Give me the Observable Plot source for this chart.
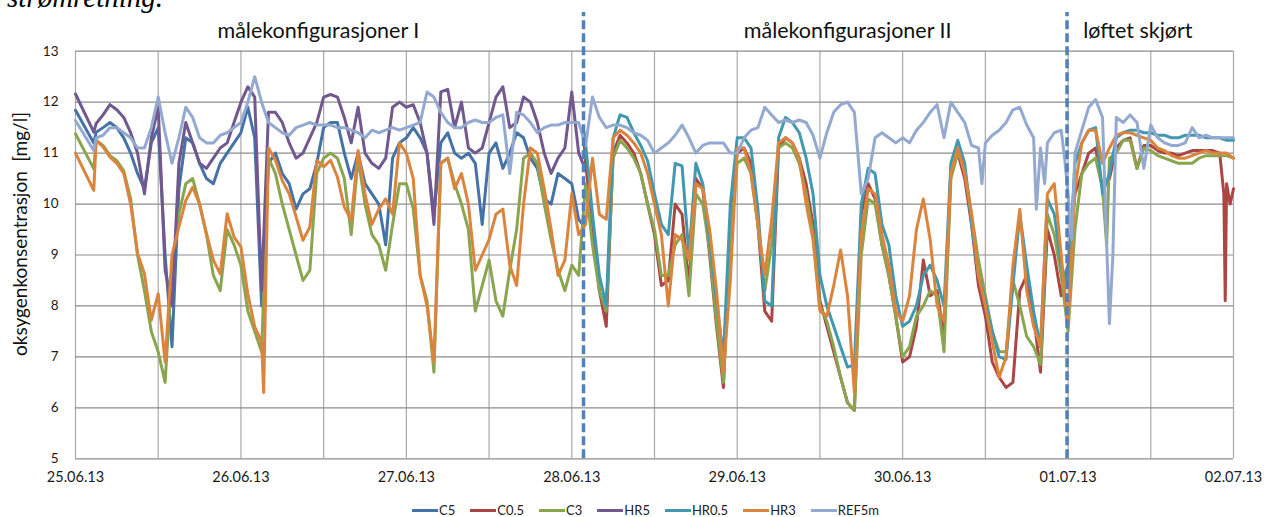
<!DOCTYPE html>
<html><head><meta charset="utf-8">
<script src="https://cdn.jsdelivr.net/npm/d3@7"></script>
<script src="https://cdn.jsdelivr.net/npm/@observablehq/plot@0.6"></script>
<style>
html,body{margin:0;padding:0;background:#fff;}
#wrap{position:relative;width:1267px;height:517px;overflow:hidden;font-family:Lato,"Open Sans",sans-serif;}
#wrap svg{position:absolute;left:0;top:0;}
#doc{position:absolute;left:7px;top:-17px;font:italic 29px/29px "Liberation Serif",serif;color:#000;white-space:nowrap;}
#legend{position:absolute;left:412px;top:502px;height:16px;display:flex;align-items:center;font-size:13px;color:#222;}
.item{display:flex;align-items:center;margin-right:15px;}
.sw{width:26px;height:3px;margin-right:1px;}
</style></head><body><div id="wrap"><div id="doc">strømretning.</div><div id="legend"></div></div>
<script>
// series names and colours (legend order = drawing order)
const names = ["C5", "C0.5", "C3", "HR5", "HR0.5", "HR3", "REF5m"];
const colors = ["#4572A7", "#AA4643", "#89A54E", "#71588F", "#4198AF", "#DB843D", "#93A9CF"];

// hourly readings (mg/l); index i = hours after 25.06.13 00:00 + start hour of the series
const C5 = [11.84,null,null,11.41,11.5,11.6,11.5,11.3,11.0,10.6,10.3,11.2,
 11.5,9.0,7.2,10.3,11.3,11.2,10.8,10.5,10.4,10.8,11.0,11.2,
 11.4,11.9,11.3,8.0,10.8,11.0,10.6,10.4,9.9,10.2,10.3,10.8,
 11.5,11.6,11.6,11.0,10.5,11.0,10.4,10.2,10.0,9.2,10.9,11.2,
 11.3,11.5,11.3,11.0,9.8,11.2,11.4,11.0,10.9,11.0,10.8,9.6,
 11.0,11.2,10.7,11.0,11.4,11.3,10.9,10.7,10.1,10.0,10.6,10.5,
 10.4,9.7];
const HR5 = [12.16,null,null,11.58,11.75,11.95,11.85,11.7,11.4,11.0,10.2,11.3,
 11.9,8.7,8.0,10.8,11.6,11.2,10.8,10.7,10.9,11.1,11.2,11.6,
 12.0,12.3,12.1,8.3,11.8,11.8,11.6,11.2,10.9,11.0,11.3,11.6,
 12.1,12.15,12.1,11.7,11.2,11.9,11.0,10.8,10.7,10.9,11.9,12.0,
 11.9,11.95,11.6,11.0,9.6,12.2,12.25,11.5,12.0,11.1,11.0,11.1,
 11.6,12.1,12.3,11.5,11.6,12.1,12.0,11.6,11.0,10.6,10.9,11.1,
 12.2,11.0];
const C3 = [11.38,null,null,11.25,11.15,10.95,10.85,10.65,10.1,9.0,8.3,7.5,
 7.1,6.5,8.7,9.8,10.4,10.5,10.0,9.4,8.6,8.3,9.5,9.2,
 8.8,7.9,7.5,7.1,10.9,10.6,10.0,9.5,9.0,8.5,8.7,10.6,
 10.9,11.0,10.9,10.5,9.4,10.9,10.0,9.4,9.2,8.7,9.6,10.4,
 10.4,9.9,8.6,8.1,6.7,10.8,10.9,10.4,10.0,9.5,7.9,8.4,
 8.9,8.1,7.8,8.7,9.5,10.9,11.0,10.8,10.0,9.3,8.7,8.3,
 8.8,8.6,10.4,9.2,8.3,7.9,10.9,11.25,11.1,10.9,10.6,10.0,
 9.5,8.6,8.6,9.2,9.4,8.2,10.2,10.0,9.1,7.7,6.5,9.3,
 10.8,10.9,10.6,9.6,8.3,9.2,11.1,11.2,11.1,10.8,10.2,9.4,
 8.0,7.7,7.2,6.6,6.1,5.95,9.0,10.1,10.0,9.2,8.6,7.8,
 7.0,7.2,7.8,8.0,8.3,8.2,7.1,10.5,11.0,10.7,9.8,8.9,
 8.2,7.5,7.1,7.1,8.5,8.0,7.4,7.2,6.85,9.8,9.4,8.6,
 7.5,9.5,10.6,10.8,10.9,10.3,10.9,11.0,11.25,11.25,10.7,11.1,
 11.05,10.95,10.9,10.85,10.8,10.8,10.8,10.9,10.95,10.95,10.95,10.95,
 10.9];
const HR3 = [11.0,null,null,11.25,11.12,10.92,10.8,10.6,10.0,9.03,8.63,7.72,
 8.24,6.9,9.0,9.55,10.07,10.33,10.0,9.42,8.9,8.63,9.81,9.35,
 9.16,8.24,7.59,7.3,11.1,10.86,10.46,10.2,9.75,9.29,9.55,10.86,
 10.73,10.86,10.53,9.94,9.68,11.05,10.2,9.6,9.9,10.1,9.8,11.2,
 11.0,10.5,8.6,8.0,6.9,10.8,10.9,10.3,10.6,10.0,8.7,9.0,
 9.3,9.8,9.9,8.8,8.4,10.0,11.1,11.0,10.3,9.5,8.6,8.9,
 10.2,9.4,9.6,10.9,9.8,9.7,11.3,11.45,11.35,11.2,11.0,10.6,
 10.0,9.4,8.0,9.4,9.3,8.9,10.4,10.3,9.5,8.3,6.7,8.5,
 11.1,11.1,10.6,9.6,8.6,9.7,11.2,11.3,11.2,10.9,10.0,9.3,
 7.9,7.8,8.4,9.1,8.2,6.3,9.4,10.3,10.2,9.4,8.8,7.9,
 7.7,8.2,9.5,10.1,9.3,8.0,7.7,10.6,11.1,10.6,9.8,8.6,
 8.0,7.3,6.6,7.0,8.8,9.9,8.3,7.6,7.2,10.2,10.4,9.0,
 7.6,10.3,11.2,11.45,11.45,10.8,11.1,11.35,11.4,11.4,11.35,11.3,
 11.25,11.1,11.05,10.95,10.9,10.9,10.95,11.0,11.05,11.0,11.0,11.0,
 10.9];
const C05 = [10.8,9.6,8.3,7.6,11.0,11.35,11.2,11.0,10.6,10.0,9.4,8.4,
 8.5,10.0,9.8,8.4,10.5,10.3,9.0,7.6,6.4,9.7,11.0,11.1,
 10.8,9.6,7.9,7.7,11.1,11.3,11.2,10.9,10.4,9.6,8.1,7.6,
 7.1,6.6,6.1,5.95,9.8,10.4,10.1,9.2,8.6,7.8,6.9,7.0,
 7.6,8.9,8.2,8.3,7.4,10.7,11.0,10.5,9.6,8.4,7.8,6.9,
 6.6,6.4,6.5,8.3,8.6,7.8,6.7,9.5,9.0,8.2,8.8,10.2,
 10.6,11.0,11.1,10.3,10.5,11.1,11.25,11.3,10.7,11.15,11.15,11.05,
 11.0,11.0,10.95,11.0,11.05,11.05,11.05,11.05,11.0,10.4,10.3];
const HR05 = [11.2,9.8,8.6,8.0,11.3,11.75,11.7,11.4,11.15,10.85,10.2,9.6,
 9.4,10.8,10.75,9.0,10.8,10.4,9.3,8.1,7.0,10.0,11.3,11.3,
 11.1,9.9,8.1,8.0,11.3,11.7,11.6,11.4,10.9,10.2,8.6,8.0,
 7.6,7.2,6.8,6.85,10.0,10.7,10.6,9.6,9.2,8.2,7.6,7.7,
 8.0,8.6,8.8,8.5,8.0,10.8,11.25,10.8,9.6,8.6,8.1,7.5,
 7.0,6.95,8.4,9.8,8.8,7.9,7.2,10.1,9.8,8.8,8.4,10.8,
 11.2,11.45,11.5,10.2,10.6,11.3,11.4,11.45,11.45,11.4,11.4,11.35,
 11.35,11.3,11.3,11.35,11.35,11.35,11.3,11.3,11.3,11.25,11.25];
const REF5m = [11.64,null,null,11.3,11.35,11.5,11.5,11.4,11.3,11.1,11.1,11.5,
 12.1,11.4,10.8,11.3,11.9,11.7,11.3,11.2,11.2,11.35,11.4,11.5,
 11.6,12.0,12.5,12.0,11.6,11.5,11.4,11.35,11.5,11.55,11.6,11.55,
 11.55,11.55,11.5,11.5,11.45,11.4,11.3,11.45,11.4,11.45,11.5,11.45,
 11.5,11.55,11.6,12.2,12.1,11.8,11.6,11.5,11.5,11.6,11.65,11.6,
 11.6,11.7,11.75,10.6,11.8,11.75,11.6,11.4,11.5,11.55,11.55,11.6,
 11.6,11.6,11.15,12.1,11.7,11.5,11.55,11.55,11.5,11.4,11.35,11.25,
 11.0,11.1,11.2,11.35,11.55,11.3,11.0,11.15,11.2,11.2,11.2,11.0,
 11.0,11.3,11.45,11.5,11.9,11.75,11.6,11.65,11.6,11.65,11.6,11.35,
 10.9,11.4,11.8,11.95,12.0,11.8,10.2,10.5,11.3,11.4,11.3,11.2,
 11.3,11.2,11.45,11.6,11.8,11.95,11.3,12.0,11.8,11.6,11.15,11.1,
 11.2,11.35,11.45,11.6,11.85,11.9,11.55,11.3,11.1,11.2,11.4,11.45,
 10.2,11.0,11.45,11.9,12.05,11.7,7.65,11.7,11.6,11.75,11.6,10.7,
 11.55,11.3,11.2,11.15,11.15,11.2,11.5,11.3,11.35,11.3,11.3,11.3,
 11.3];

// readings between the full hours (spikes, section changes)
const extraName = ["C5","HR5","C3","HR3","REF5m","HR3","C5","HR5","C0.5","HR0.5","REF5m","REF5m","REF5m","REF5m","REF5m","REF5m","C3","REF5m","C0.5","C0.5","C0.5"];
const extraHour = [2.65,2.65,2.65,2.65,2.65,27.3,73.6,73.6,73.8,73.8,131.5,139.4,140.6,143.5,144.5,149.5,149.6,150.5,166.6,166.8,167.5];
const extraValue = [11.2,11.41,10.69,10.27,11.05,6.3,9.6,10.8,11.2,11.4,10.4,9.9,10.4,10.9,9.3,9.6,9.2,9.0,10.2,8.1,10.0];

const seriesValues = [C5, C05, C3, HR5, HR05, HR3, REF5m];
const seriesStart = [0, 74, 0, 0, 74, 0, 0];

// section changes (dashed lines) and section titles
const sectionBreaks = [73.7, 143.85];
const sectionTitles = ["målekonfigurasjoner I", "målekonfigurasjoner II", "løftet skjørt"];
const sectionTitleAt = [20.6, 96.95, 146.2];

const yTicks = [5, 6, 7, 8, 9, 10, 11, 12, 13];
const yTitle = "oksygenkonsentrasjon\u2002[mg/l]";

const base = Date.UTC(2013, 5, 25);
const toDate = h => new Date(base + h * 3600e3);

const table = [];
names.forEach((name, k) => {
  const rows = [];
  seriesValues[k].forEach((v, i) => { if (v != null) rows.push({h: seriesStart[k] + i, v, name}); });
  extraName.forEach((n, j) => { if (n === name) rows.push({h: extraHour[j], v: extraValue[j], name}); });
  rows.sort((a, b) => a.h - b.h);
  rows.forEach(r => table.push({t: toDate(r.h), v: r.v, name: r.name}));
});

const days = d3.range(0, 8).map(d => toDate(d * 24));
const grid12 = d3.range(0, 15).map(d => toDate(d * 12));
const titles = sectionTitles.map((s, i) => ({label: s, at: toDate(sectionTitleAt[i])}));

const chart = Plot.plot({
  width: 1267, height: 517,
  marginLeft: 75, marginRight: 34, marginTop: 50.7, marginBottom: 58.7,
  style: {fontFamily: "Lato, 'Open Sans', sans-serif", color: "#1a1a1a", background: "transparent", overflow: "visible"},
  x: {type: "utc", domain: [toDate(0), toDate(168)]},
  y: {domain: [5, 13]},
  color: {domain: names, range: colors},
  marks: [
    Plot.ruleX(grid12, {stroke: "#a9a9a9", strokeWidth: 1.2}),
    Plot.ruleY(yTicks, {stroke: "#8c8c8c", strokeWidth: 1.2}),
    Plot.axisX({ticks: days, tickFormat: d3.utcFormat("%d.%m.%y"), tickSize: 0, tickPadding: 13, fontSize: 14.5, label: null}),
    Plot.axisY({ticks: yTicks, tickSize: 0, tickPadding: 17, fontSize: 13.5, label: null}),
    Plot.line(table, {x: "t", y: "v", z: "name", stroke: "name", strokeWidth: 3, strokeLinejoin: "round"}),
    Plot.ruleX(sectionBreaks.map(toDate), {y1: 5, y2: 13.76, stroke: "#4f81bd", strokeWidth: 3.5, strokeDasharray: "9,4"}),
    Plot.text(titles, {x: "at", y: 13, text: "label", textAnchor: "start", dy: -20, fontSize: 21.5, fill: "#111"}),
    Plot.text([yTitle], {frameAnchor: "left", textAnchor: "middle", dx: -55, dy: -21, rotate: -90, fontSize: 19, fill: "#111"})
  ]
});
document.getElementById("wrap").appendChild(chart);

const legend = document.getElementById("legend");
names.forEach((n, i) => {
  const it = document.createElement("div");
  it.className = "item";
  it.innerHTML = `<span class="sw" style="background:${colors[i]}"></span><span>${n}</span>`;
  legend.appendChild(it);
});
</script></body></html>
